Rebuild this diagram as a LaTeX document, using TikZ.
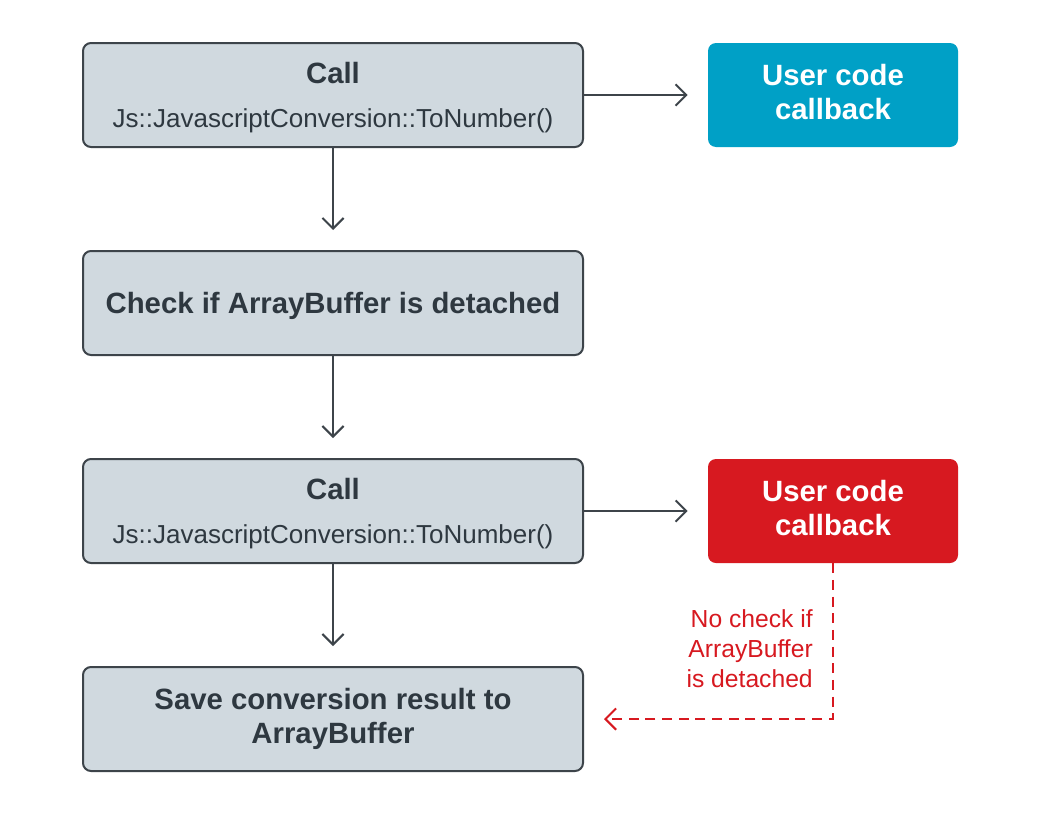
\documentclass[tikz,border=0pt]{standalone}
\usepackage{fontspec}
\setmainfont{Liberation Sans}
\usetikzlibrary{arrows.meta}
\definecolor{boxFill}{HTML}{D0D9DF}
\definecolor{boxLine}{HTML}{3D444A}
\definecolor{textGray}{HTML}{2E3840}
\definecolor{userBlue}{HTML}{00A0C6}
\definecolor{userRed}{HTML}{D71920}
\tikzstyle{stepBox}=[draw=boxLine,fill=boxFill,line width=1.5pt,rounded corners=6pt,minimum width=375pt,minimum height=78pt,align=center,text=textGray,font=\fontsize{19.5}{25}\selectfont]
\tikzstyle{userBox}=[rounded corners=6pt,minimum width=187.5pt,minimum height=78pt,align=center,text=white,font=\bfseries\fontsize{22}{26}\selectfont]
\tikzstyle{flowArrow}=[-{Straight Barb[length=8pt,width=16pt]}, line width=1.5pt, draw=boxLine]
\tikzstyle{redArrow}=[-{Straight Barb[length=8pt,width=16pt]}, line width=1.5pt, draw=userRed, dash pattern=on 7.5pt off 5pt]

\begin{document}
\begin{tikzpicture}[x=0.75pt,y=-0.75pt]
	\useasboundingbox[fill=white] (0,0) rectangle (1042,821);

	\node[stepBox] (call1) at (333,95) {{\bfseries\fontsize{22}{26}\selectfont\rule{0pt}{20pt}Call}\\[8pt]Js::JavascriptConversion::ToNumber()};
	\node[stepBox,font=\bfseries\fontsize{22}{26}\selectfont] (check) at (333,303) {\rule{0pt}{20.5pt}Check if ArrayBuffer is detached};
	\node[stepBox] (call2) at (333,511) {{\bfseries\fontsize{22}{26}\selectfont\rule{0pt}{20pt}Call}\\[8pt]Js::JavascriptConversion::ToNumber()};
	\node[stepBox,font=\bfseries\fontsize{22}{26}\selectfont] (save) at (333,719) {Save conversion result to\\ArrayBuffer};

	\node[userBox,fill=userBlue] (user1) at (833,95) {User code\\callback\vphantom{g}};
	\node[userBox,fill=userRed] (user2) at (833,511) {User code\\callback\vphantom{g}};

	\draw[flowArrow,shorten >=15pt] (call1) -- (check);
	\draw[flowArrow,shorten >=15pt] (check) -- (call2);
	\draw[flowArrow,shorten >=15pt] (call2) -- (save);
	\draw[flowArrow,shorten >=15pt] (call1) -- (user1);
	\draw[flowArrow,shorten >=15pt] (call2) -- (user2);

	\draw[redArrow,shorten >=15pt] (user2.south) |- (save.east);
	\node[anchor=north east,inner sep=0pt,align=right,text=userRed,font=\fontsize{18.5}{22.5}\selectfont] (nocheck) at (813,609) {No check if\\ArrayBuffer\\is detached};
\end{tikzpicture}
\end{document}
